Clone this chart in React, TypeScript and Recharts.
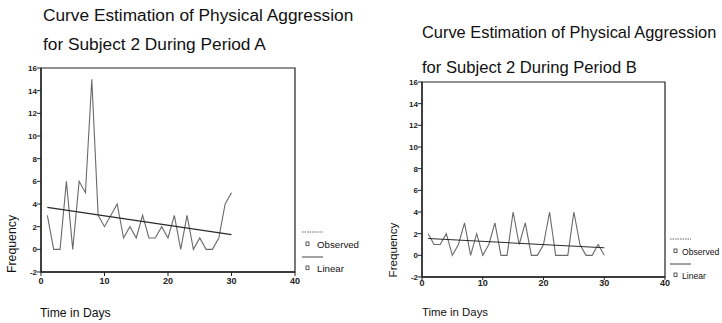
import React from "react";
import { LineChart, Line, XAxis, YAxis, ReferenceArea } from "recharts";

const days = [1,2,3,4,5,6,7,8,9,10,11,12,13,14,15,16,17,18,19,20,21,22,23,24,25,26,27,28,29,30];
const observedA = [3,0,0,6,0,6,5,15,3,2,3,4,1,2,1,3,1,1,2,1,3,0,3,0,1,0,0,1,4,5];
const observedB = [2,1,1,2,0,1,3,0,2,0,1,3,0,0,4,1,3,0,0,1,4,0,0,0,4,1,0,0,1,0];
const linearDays = [1, 30];
const linearA = [3.7, 1.3];
const linearB = [1.55, 0.7];
const xTicks = [0, 10, 20, 30, 40];
const yTicks = [-2, 0, 2, 4, 6, 8, 10, 12, 14, 16];

const dataA = days.map((d, i) => ({ day: d, obs: observedA[i] }));
const dataB = days.map((d, i) => ({ day: d, obs: observedB[i] }));
const linA = linearDays.map((d, i) => ({ day: d, lin: linearA[i] }));
const linB = linearDays.map((d, i) => ({ day: d, lin: linearB[i] }));

const FONT = "'Liberation Sans', Arial, sans-serif";

function Panel(props: {
  data: any[]; lin: any[]; width: number; height: number;
  margin: any; yWidth: number; tickSize: number; tickMargin: number;
}) {
  const { data, lin, width, height, margin, yWidth, tickSize, tickMargin } = props;
  return (
    <LineChart width={width} height={height} data={data} margin={margin}>
      <XAxis
        dataKey="day" type="number" domain={[0, 40]} ticks={xTicks}
        height={20} tickSize={tickSize} tickMargin={tickMargin}
        axisLine={{ stroke: "#222", strokeWidth: 1.3 }} tickLine={{ stroke: "#222" }}
        tick={{ fontSize: 9, fontWeight: "bold", fill: "#222", fontFamily: FONT }}
        allowDataOverflow
      />
      <YAxis
        type="number" domain={[-2, 16]} ticks={yTicks} width={yWidth}
        tickSize={4} tickMargin={0}
        axisLine={{ stroke: "#222", strokeWidth: 1.3 }} tickLine={{ stroke: "#222" }}
        tick={{ fontSize: 8, fontWeight: "bold", fill: "#222", fontFamily: FONT }}
        allowDataOverflow
      />
      <ReferenceArea x1={0} x2={40} y1={-2} y2={16} fill="none" stroke="#222" strokeWidth={1.2} ifOverflow="extendDomain" />
      <Line dataKey="obs" stroke="#6a6a6a" strokeWidth={1.1} dot={false} isAnimationActive={false} />
      <Line data={lin} dataKey="lin" stroke="#2a2a2a" strokeWidth={1.1} dot={false} isAnimationActive={false} />
    </LineChart>
  );
}

function LegendBlock(props: { x: number; y: number; fs: number; tx: number }) {
  const { x, y, fs, tx } = props;
  const t = { fontSize: fs, fontFamily: FONT, fill: "#111" } as any;
  return (
    <g>
      <line x1={x} x2={x + 21} y1={y} y2={y} stroke="#666" strokeDasharray="1.5 1" />
      <rect x={x + 4} y={y + 10} width={3} height={3.5} fill="none" stroke="#333" strokeWidth={0.8} />
      <text x={x + tx} y={y + 16} {...t}>Observed</text>
      <line x1={x} x2={x + 21} y1={y + 25} y2={y + 25} stroke="#444" />
      <rect x={x + 4} y={y + 34} width={3} height={3.5} fill="none" stroke="#333" strokeWidth={0.8} />
      <text x={x + tx} y={y + 40} {...t}>Linear</text>
    </g>
  );
}

export default function App() {
  return (
    <div style={{ position: "fixed", left: 0, top: 0, width: 722, height: 323, background: "#fff", overflow: "hidden" }}>
      <div style={{ position: "absolute", left: 0, top: 0 }}>
        <Panel data={dataA} lin={linA} width={360} height={323}
          margin={{ top: 68, right: 65, bottom: 31, left: 0 }} yWidth={41} tickSize={4} tickMargin={2} />
      </div>
      <div style={{ position: "absolute", left: 370, top: 0 }}>
        <Panel data={dataB} lin={linB} width={352} height={323}
          margin={{ top: 82, right: 57, bottom: 26, left: 0 }} yWidth={52} tickSize={3} tickMargin={0} />
      </div>
      <svg width={722} height={323} style={{ position: "absolute", left: 0, top: 0, pointerEvents: "none" }}>
        <g fontFamily={FONT} fill="#111">
          <text x={43} y={21} fontSize={17.3}>Curve Estimation of Physical Aggression</text>
          <text x={43} y={50} fontSize={17.3}>for Subject 2 During Period A</text>
          <text x={422} y={38} fontSize={16.4}>Curve Estimation of Physical Aggression</text>
          <text x={422} y={73} fontSize={16.6}>for Subject 2 During Period B</text>
          <text x={40} y={317} fontSize={12.2}>Time in Days</text>
          <text x={422} y={316} fontSize={11.4}>Time in Days</text>
          <text transform="translate(16,244) rotate(-90)" textAnchor="middle" fontSize={12.3}>Frequency</text>
          <text transform="translate(397,250) rotate(-90)" textAnchor="middle" fontSize={11.6}>Frequency</text>
        </g>
        <LegendBlock x={302} y={232} fs={9.7} tx={15} />
        <LegendBlock x={670} y={239} fs={8.6} tx={12} />
      </svg>
    </div>
  );
}
